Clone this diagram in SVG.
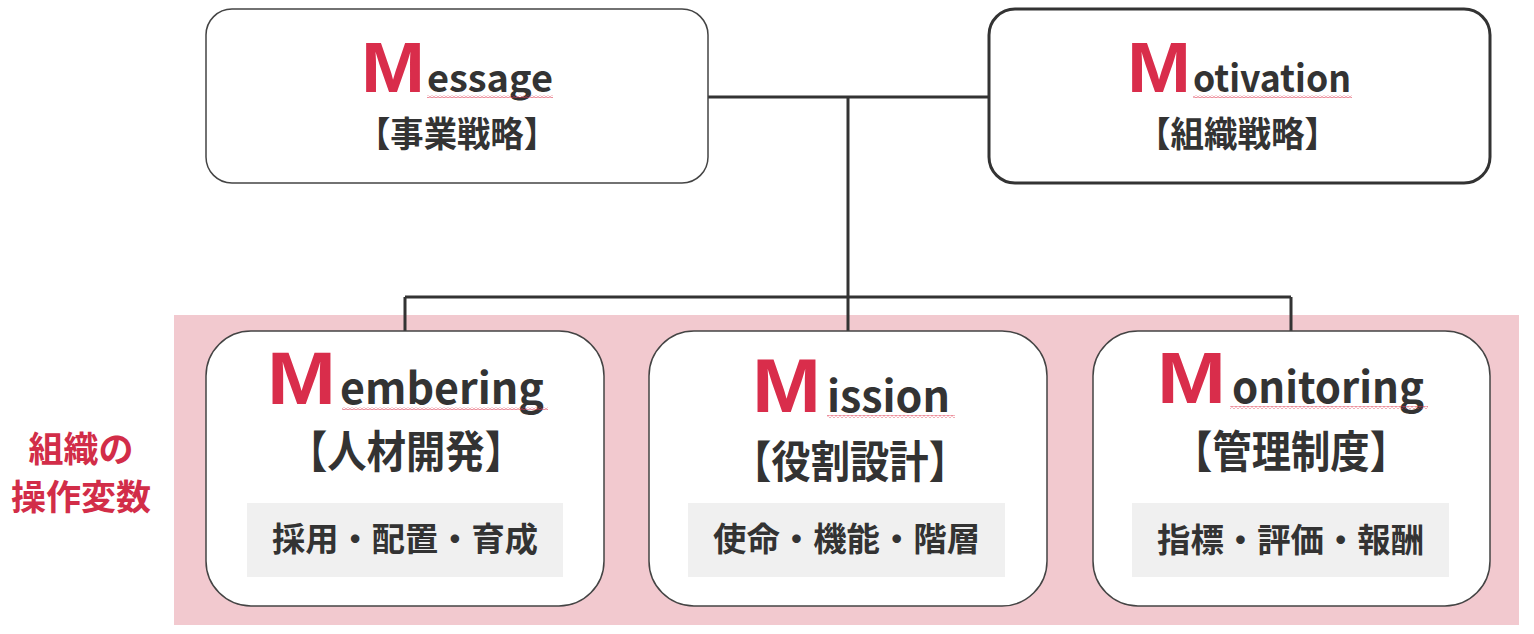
<svg xmlns="http://www.w3.org/2000/svg" width="1534" height="634" viewBox="0 0 1534 634">
<defs>
<style>
.box{fill:#ffffff;stroke:#444444;stroke-width:1.5}
.boxb{fill:#ffffff;stroke:#333333;stroke-width:3}
.sub{fill:#f0f0f0}
.conn{fill:none;stroke:#333333;stroke-width:3}
.m{font-family:"Liberation Sans",Arial,sans-serif;font-weight:bold;fill:#d92d4b}
.lw{font-family:"Noto Sans CJK JP","Noto Sans",sans-serif;font-weight:bold;fill:#333333}
.jp{font-family:"Noto Sans CJK JP",sans-serif;font-weight:bold;fill:#333333}
.lbl{font-family:"Noto Sans CJK JP",sans-serif;font-weight:bold;fill:#d22d48;font-size:35px;text-anchor:middle}
</style>
<pattern id="wave" width="4" height="3" patternUnits="userSpaceOnUse">
<path d="M0 2.2 L2 0.6 L4 2.2" fill="none" stroke="#e0394f" stroke-width="0.8"/>
</pattern>
</defs>
<rect x="0" y="0" width="1534" height="634" fill="#ffffff"/>
<rect x="174" y="315" width="1345" height="310" fill="#f2c9cf"/>

<g id="label">
<text class="lbl" x="81" y="462">組織の</text>
<text class="lbl" x="81" y="510">操作変数</text>
</g>

<g id="connectors">
<path class="conn" d="M708 97 H988"/>
<path class="conn" d="M848 97 V297"/>
<path class="conn" d="M405 297 H1291"/>
<path class="conn" d="M405 297 V331 M848 297 V331 M1291 297 V331"/>
</g>

<g id="message">
<rect class="box" x="206" y="9" width="502" height="174" rx="26"/>
<text class="m" x="361" y="92" font-size="70" textLength="64" lengthAdjust="spacingAndGlyphs">M</text>
<text class="lw" x="427" y="92" font-size="37" textLength="126" lengthAdjust="spacingAndGlyphs">essage</text>
<rect x="427" y="95" width="126" height="3" fill="url(#wave)"/>
<text class="jp" x="357" y="147" font-size="35" textLength="200" lengthAdjust="spacingAndGlyphs">【事業戦略】</text>
</g>

<g id="motivation">
<rect class="boxb" x="989" y="9" width="501" height="174" rx="26"/>
<text class="m" x="1127" y="92" font-size="70" textLength="64" lengthAdjust="spacingAndGlyphs">M</text>
<text class="lw" x="1193" y="92" font-size="37" textLength="158" lengthAdjust="spacingAndGlyphs">otivation</text>
<rect x="1193" y="95" width="159" height="3" fill="url(#wave)"/>
<text class="jp" x="1137" y="147" font-size="35" textLength="201" lengthAdjust="spacingAndGlyphs">【組織戦略】</text>
</g>

<g id="membering">
<rect class="box" x="206" y="331" width="398" height="275" rx="45"/>
<text class="m" x="267" y="404" font-size="74" textLength="69" lengthAdjust="spacingAndGlyphs">M</text>
<text class="lw" x="340" y="404" font-size="43" textLength="204" lengthAdjust="spacingAndGlyphs">embering</text>
<rect x="342" y="407" width="206" height="3" fill="url(#wave)"/>
<text class="jp" x="288" y="468" font-size="44" textLength="236" lengthAdjust="spacingAndGlyphs">【人材開発】</text>
<rect class="sub" x="247" y="503" width="316" height="74"/>
<text class="jp" x="272" y="551" font-size="33" textLength="266" lengthAdjust="spacingAndGlyphs">採用・配置・育成</text>
</g>

<g id="mission">
<rect class="box" x="649" y="331" width="398" height="275" rx="45"/>
<text class="m" x="752" y="412" font-size="76" textLength="69" lengthAdjust="spacingAndGlyphs">M</text>
<text class="lw" x="827" y="412" font-size="43" textLength="123" lengthAdjust="spacingAndGlyphs">ission</text>
<rect x="827" y="415" width="128" height="3" fill="url(#wave)"/>
<text class="jp" x="732" y="478" font-size="44" textLength="236" lengthAdjust="spacingAndGlyphs">【役割設計】</text>
<rect class="sub" x="688" y="503" width="317" height="74"/>
<text class="jp" x="713" y="551" font-size="33" textLength="267" lengthAdjust="spacingAndGlyphs">使命・機能・階層</text>
</g>

<g id="monitoring">
<rect class="box" x="1093" y="331" width="397" height="275" rx="45"/>
<text class="m" x="1157" y="403" font-size="72" textLength="69" lengthAdjust="spacingAndGlyphs">M</text>
<text class="lw" x="1232" y="403" font-size="43" textLength="192" lengthAdjust="spacingAndGlyphs">onitoring</text>
<rect x="1230" y="406" width="198" height="3" fill="url(#wave)"/>
<text class="jp" x="1173" y="468" font-size="44" textLength="236" lengthAdjust="spacingAndGlyphs">【管理制度】</text>
<rect class="sub" x="1132" y="503" width="317" height="74"/>
<text class="jp" x="1157" y="552" font-size="33" textLength="267" lengthAdjust="spacingAndGlyphs">指標・評価・報酬</text>
</g>
</svg>
